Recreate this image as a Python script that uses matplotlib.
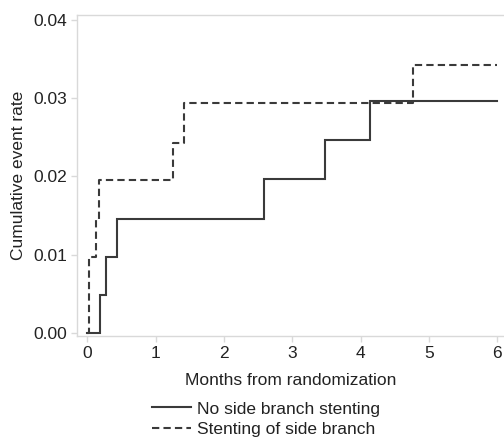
import matplotlib
matplotlib.use("Agg")
import matplotlib.pyplot as plt
from matplotlib.lines import Line2D

plt.rcParams['font.family'] = ['Liberation Sans', 'DejaVu Sans']

# Step data (time in months, cumulative event rate)
no_sb_time = [0.0, 0.18, 0.27, 0.43, 2.59, 3.48, 4.14, 6.0]
no_sb_rate = [0.0, 0.0049, 0.0097, 0.0146, 0.0196, 0.0246, 0.0296, 0.0296]

sb_time = [0.0, 0.03, 0.13, 0.165, 1.25, 1.41, 4.77, 6.0]
sb_rate = [0.0, 0.0097, 0.0146, 0.0195, 0.0243, 0.0293, 0.0342, 0.0342]

legend_labels = ["No side branch stenting", "Stenting of side branch"]
x_ticks = [0, 1, 2, 3, 4, 5, 6]
y_ticks = [0.00, 0.01, 0.02, 0.03, 0.04]
y_tick_labels = ["0.00", "0.01", "0.02", "0.03", "0.04"]

fig = plt.figure(figsize=(5.04, 4.38), dpi=100)
ax = fig.add_axes([77/504, 1-336/438, (504-77)/504, (336-15)/438])

line_col = '#3a3a3a'
ax.step(no_sb_time, no_sb_rate, where='post', color=line_col, lw=1.5, solid_joinstyle='miter')
ax.step(sb_time, sb_rate, where='post', color=line_col, lw=1.5, linestyle=(0, (3.5, 2)))

ax.set_xlim(-0.15, 6.1)
ax.set_ylim(-0.0004, 0.0406)
ax.set_xticks(x_ticks)
ax.set_yticks(y_ticks)
ax.set_yticklabels(y_tick_labels)

spine_col = '#d9d9d9'
for s in ['left', 'bottom', 'top']:
    ax.spines[s].set_color(spine_col)
    ax.spines[s].set_linewidth(1.0)
ax.spines['right'].set_visible(False)
ax.tick_params(axis='both', colors=spine_col, labelcolor='#222222', length=4, width=1, labelsize=12.5, pad=3)

ax.set_xlabel("Months from randomization", fontsize=12.5, color='#222222', labelpad=9)
ax.set_ylabel("Cumulative event rate", fontsize=12.5, color='#222222', labelpad=5)

handles = [Line2D([], [], color=line_col, lw=1.5),
           Line2D([], [], color=line_col, lw=1.5, linestyle=(0, (3.5, 2)))]
fig.legend(handles, legend_labels, loc='center', bbox_to_anchor=(0.527, 0.043),
           frameon=False, fontsize=12.5, handlelength=2.3, handletextpad=0.3,
           labelspacing=0.3, labelcolor='#222222', borderpad=0)

fig.savefig("out.png", dpi=100)
